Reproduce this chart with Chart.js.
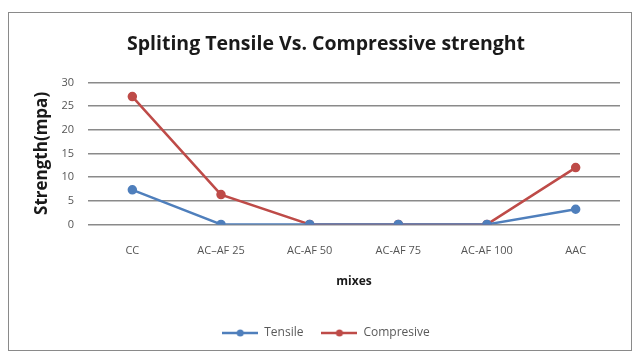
<!DOCTYPE html>
<html>
<head>
<meta charset="utf-8">
<script src="https://cdn.jsdelivr.net/npm/chart.js@4/dist/chart.umd.min.js"></script>
<style>
  html, body { margin: 0; padding: 0; background: #fff; }
  #frame { position: absolute; left: 8px; top: 12px; width: 622px; height: 337px; border: 1px solid #8a8a8a; }
  #wrap { position: absolute; left: 0; top: 0; width: 640px; height: 357px; }
</style>
</head>
<body>
<div id="frame"></div>
<div id="wrap"><canvas id="strengthChart" width="640" height="357"></canvas></div>
<script>
// datos
const mixes = ['CC', 'AC\u2013AF 25', 'AC-AF 50', 'AC-AF 75', 'AC-AF 100', 'AAC'];
const tensile = [7.3, 0, 0, 0, 0, 3.2];
const compresive = [27, 6.3, 0, 0, 0, 12];
const yTicks = [0, 5, 10, 15, 20, 25, 30];

const blue = '#4f7fbc';
const red = '#be4b48';

// marca de leyenda: línea con punto
function legendMark(color) {
  const c = document.createElement('canvas');
  c.width = 36; c.height = 10;
  const g = c.getContext('2d');
  g.strokeStyle = color; g.lineWidth = 2.5;
  g.beginPath(); g.moveTo(0, 5); g.lineTo(36, 5); g.stroke();
  g.fillStyle = color;
  g.beginPath(); g.arc(18, 5, 3.5, 0, Math.PI * 2); g.fill();
  return c;
}

const ctx = document.getElementById('strengthChart').getContext('2d');
const strengthChart = new Chart(ctx, {
  type: 'line',
  data: {
    labels: mixes,
    datasets: [{
      label: 'Tensile',
      data: tensile,
      borderColor: blue,
      backgroundColor: blue,
      borderWidth: 2.5,
      pointRadius: 3.5,
      tension: 0
    }, {
      label: 'Compresive',
      data: compresive,
      borderColor: red,
      backgroundColor: red,
      borderWidth: 2.5,
      pointRadius: 3.5,
      tension: 0
    }]
  },
  options: {
    responsive: false,
    animation: false,
    layout: { padding: { left: 32, right: 20, top: 0, bottom: 8 } },
    plugins: {
      title: {
        display: true,
        text: 'Spliting Tensile Vs. Compressive strenght',
        font: { family: 'Open Sans', size: 19.5, weight: 'bold' },
        color: '#1a1a1a',
        padding: { top: 33, bottom: 26 }
      },
      legend: {
        position: 'bottom',
        labels: {
          usePointStyle: true,
          pointStyleWidth: 36,
          boxWidth: 36,
          font: { family: 'Open Sans', size: 12 },
          color: '#595959',
          padding: 18,
          generateLabels: function(chart) {
            return chart.data.datasets.map(function(ds, i) {
              return {
                text: ds.label,
                fillStyle: ds.borderColor,
                strokeStyle: ds.borderColor,
                fontColor: '#595959',
                pointStyle: legendMark(ds.borderColor),
                datasetIndex: i,
                hidden: false
              };
            });
          }
        }
      },
      tooltip: { enabled: false }
    },
    scales: {
      y: {
        min: 0,
        max: 30,
        afterFit: function(scale) { scale.width = 56; },
        afterBuildTicks: function(scale) { scale.ticks = yTicks.map(v => ({ value: v })); },
        ticks: { font: { family: 'Open Sans', size: 11 }, color: '#555', padding: 14 },
        grid: { color: '#8a8a8a', lineWidth: 1.5, drawTicks: false },
        border: { display: false },
        title: {
          display: true,
          text: 'Strength(mpa)',
          font: { family: 'Open Sans', size: 17, weight: 'bold' },
          color: '#1a1a1a',
          padding: 0
        }
      },
      x: {
        offset: true,
        afterFit: function(scale) { scale.height = scale.height - 13; },
        ticks: { font: { family: 'Open Sans', size: 11 }, color: '#555', padding: 20, maxRotation: 0 },
        grid: { display: false, drawTicks: false },
        border: { display: false },
        title: {
          display: true,
          text: 'mixes',
          font: { family: 'Open Sans', size: 12, weight: 'bold' },
          color: '#1a1a1a',
          padding: { top: 10, bottom: 20 }
        }
      }
    }
  }
});
</script>
</body>
</html>
